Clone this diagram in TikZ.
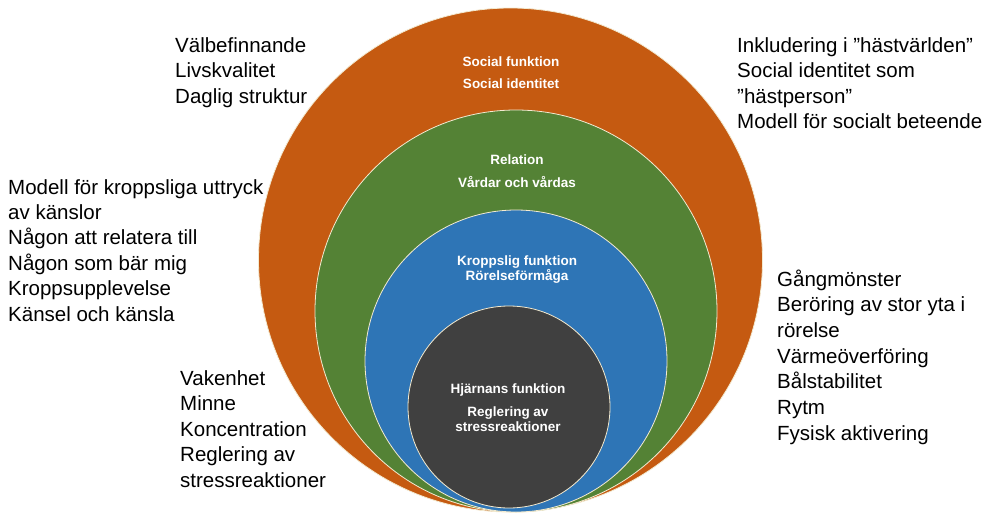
\documentclass[tikz,border=0pt]{standalone}
\usepackage{fontspec}
\setmainfont{Liberation Sans}
\definecolor{cOrange}{HTML}{C55A11}
\definecolor{cGreen}{HTML}{548235}
\definecolor{cBlue}{HTML}{2E75B6}
\definecolor{cDark}{HTML}{404040}
\definecolor{cEdge}{HTML}{F3EAD0}
\begin{document}
\begin{tikzpicture}[x=1pt,y=-1pt,
  ring/.style={circle, inner sep=0pt, draw=cEdge, line width=0.8pt},
  side/.style={anchor=base west, inner sep=0pt, text=black, font=\fontsize{20.5}{25.5}\selectfont},
  inlbl/.style={anchor=base, inner sep=0pt, text=white, font=\bfseries\fontsize{13.5}{16}\selectfont}]
\useasboundingbox (0,0) rectangle (986,514);
% circles
\node[ring, fill=cOrange, minimum size=504pt] (outer) at (510.5,260) {};
\node[ring, fill=cGreen,  minimum size=402pt] (green) at (516,311) {};
\node[ring, fill=cBlue,   minimum size=302pt] (blue)  at (516,361) {};
\node[ring, fill=cDark,   minimum size=202pt] (dark)  at (509,407) {};
% inner labels
\node[inlbl] (o1) at (511,66) {Social funktion};
\node[inlbl] (o2) at (511,88) {Social identitet};
\node[inlbl] (g1) at (517,164) {Relation};
\node[inlbl] (g2) at (517,187) {Vårdar och vårdas};
\node[inlbl] (b1) at (517,265) {Kroppslig funktion};
\node[inlbl] (b2) at (517,280) {Rörelseförmåga};
\node[inlbl] (d1) at (508,393) {Hjärnans funktion};
\node[inlbl] (d2) at (508,416) {Reglering av};
\node[inlbl] (d3) at (508,431) {stressreaktioner};
% side texts
\foreach \t [count=\i from 0] in {Välbefinnande, Livskvalitet, Daglig struktur}
  \node[side] (tl\i) at (175,{52+25.5*\i}) {\t};
\foreach \t [count=\i from 0] in {Inkludering i ”hästvärlden”, Social identitet som, ”hästperson”, Modell för socialt beteende}
  \node[side] (tr\i) at (737,{52+25.5*\i}) {\t};
\foreach \t [count=\i from 0] in {Modell för kroppsliga uttryck, av känslor, Någon att relatera till, Någon som bär mig, Kroppsupplevelse, Känsel och känsla}
  \node[side] (ml\i) at (8,{194+25.4*\i}) {\t};
\foreach \t [count=\i from 0] in {Vakenhet, Minne, Koncentration, Reglering av, stressreaktioner}
  \node[side] (bl\i) at (180,{385+25.5*\i}) {\t};
\foreach \t [count=\i from 0] in {Gångmönster, Beröring av stor yta i, rörelse, Värmeöverföring, Bålstabilitet, Rytm, Fysisk aktivering}
  \node[side] (rt\i) at (777,{286+25.7*\i}) {\t};
\end{tikzpicture}
\end{document}
